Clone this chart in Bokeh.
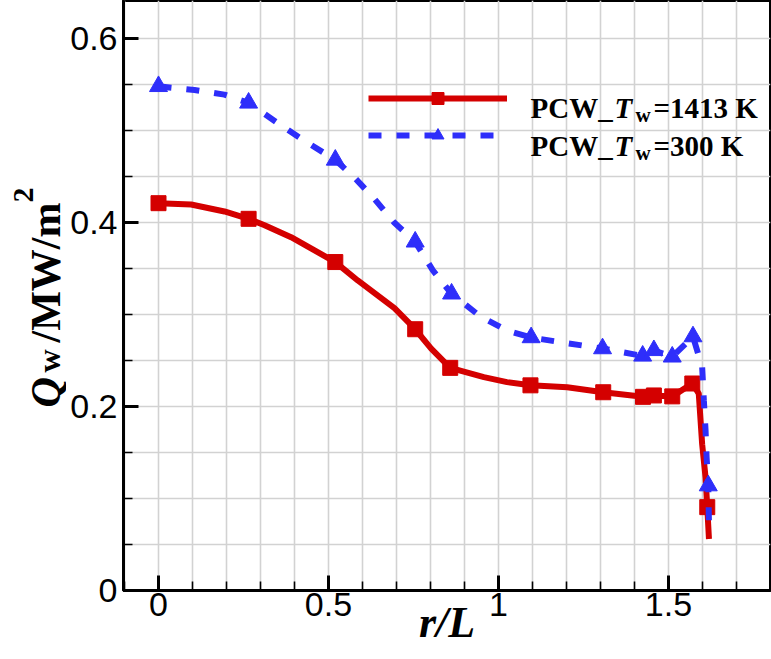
from math import pi
from bokeh.plotting import figure
from bokeh.layouts import row
from bokeh.models import Range1d, FixedTicker, Label, Legend, LegendItem
from bokeh.embed import file_html
from bokeh.resources import INLINE

# ---------------- data ----------------
x_tick_values = [0, 0.5, 1, 1.5]
x_tick_labels = ["0", "0.5", "1", "1.5"]
x_minor_values = [-0.1, 0.1, 0.2, 0.3, 0.4, 0.6, 0.7, 0.8, 0.9, 1.1, 1.2, 1.3, 1.4, 1.6, 1.7]
y_tick_values = [0, 0.2, 0.4, 0.6]
y_tick_labels = ["0", "0.2", "0.4", "0.6"]
y_minor_values = [0.05, 0.1, 0.15, 0.25, 0.3, 0.35, 0.45, 0.5, 0.55]

# Tw = 1413 K (red squares)
red_marker_x = [0.0, 0.265, 0.52, 0.755, 0.858, 1.094, 1.308, 1.425, 1.457, 1.511, 1.57, 1.614]
red_marker_y = [0.421, 0.404, 0.357, 0.284, 0.242, 0.223, 0.2155, 0.2105, 0.212, 0.211, 0.225, 0.0906]
red_curve_x = [0.0, 0.096, 0.194, 0.265, 0.312, 0.39, 0.52, 0.586, 0.694, 0.755, 0.802, 0.858,
               0.957, 1.025, 1.094, 1.202, 1.308, 1.425, 1.457, 1.511, 1.57, 1.589, 1.599,
               1.609, 1.614, 1.619]
red_curve_y = [0.421, 0.4196, 0.412, 0.404, 0.397, 0.384, 0.357, 0.337, 0.307, 0.284, 0.263, 0.242,
               0.232, 0.2265, 0.223, 0.221, 0.2155, 0.2105, 0.212, 0.211, 0.225, 0.214, 0.159,
               0.123, 0.0906, 0.056]

# Tw = 300 K (blue triangles)
blue_marker_x = [0.0, 0.265, 0.52, 0.755, 0.862, 1.096, 1.306, 1.424, 1.457, 1.511, 1.572, 1.617]
blue_marker_y = [0.548, 0.530, 0.468, 0.379, 0.3225, 0.275, 0.263, 0.255, 0.261, 0.254, 0.276, 0.114]
blue_curve_x = [0.0, 0.106, 0.194, 0.265, 0.351, 0.424, 0.52, 0.576, 0.635, 0.694, 0.755, 0.807,
                0.862, 0.947, 1.025, 1.096, 1.202, 1.306, 1.424, 1.457, 1.511, 1.572, 1.599,
                1.604, 1.609, 1.612, 1.617, 1.619]
blue_curve_y = [0.548, 0.544, 0.539, 0.530, 0.508, 0.490, 0.468, 0.449, 0.4257, 0.3997, 0.379, 0.348,
                0.3225, 0.2978, 0.2826, 0.275, 0.2688, 0.263, 0.255, 0.261, 0.254, 0.276, 0.243,
                0.2065, 0.174, 0.145, 0.114, 0.0725]

# ---------------- geometry (page pixels) ----------------
TOTAL_W, TOTAL_H = 771, 659
YW = 66
FRAME_L, FRAME_R = 123, 770
FRAME_T, FRAME_B = 0, 590
PW = TOTAL_W - YW
PH = TOTAL_H
BL = FRAME_L - YW
BR = TOTAL_W - FRAME_R
BB = PH - FRAME_B
PPU_X = 340.0
X0 = -0.1 - (124 - FRAME_L) / PPU_X
X1 = X0 + (FRAME_R - FRAME_L) / PPU_X
PPU_Y = 920.0
Y0 = 0.0
Y1 = Y0 + (FRAME_B - FRAME_T) / PPU_Y

def X(px):
    return X0 + (px - FRAME_L) / PPU_X
def Y(py):
    return Y0 + (FRAME_B - py) / PPU_Y

RED = "#d40000"
BLUE = "#2e2efa"
SERIF = "Liberation Serif"
SANS = "Liberation Sans"

p = figure(width=PW, height=PH, output_backend="svg", toolbar_location=None,
           x_range=Range1d(X0, X1), y_range=Range1d(Y0, Y1),
           min_border_left=BL, min_border_right=BR,
           min_border_top=FRAME_T, min_border_bottom=BB)
p.background_fill_color = "white"
p.border_fill_color = "white"
p.outline_line_color = "black"
p.outline_line_width = 3

p.xgrid.ticker = FixedTicker(ticks=sorted(x_tick_values + x_minor_values))
p.ygrid.ticker = FixedTicker(ticks=sorted(y_tick_values + y_minor_values))
for g in (p.xgrid, p.ygrid):
    g.grid_line_color = "#d2d2d2"
    g.grid_line_width = 1.6

p.xaxis.ticker = FixedTicker(ticks=x_tick_values, minor_ticks=x_minor_values)
p.yaxis.ticker = FixedTicker(ticks=y_tick_values, minor_ticks=y_minor_values)
p.xaxis.major_label_overrides = {v: s for v, s in zip(x_tick_values, x_tick_labels)}
p.yaxis.major_label_overrides = {v: s for v, s in zip(y_tick_values, y_tick_labels)}
for ax in (p.xaxis, p.yaxis):
    ax.axis_line_width = 3
    ax.axis_line_color = "black"
    ax.major_tick_in = 15
    ax.major_tick_out = 0
    ax.minor_tick_in = 9
    ax.minor_tick_out = 0
    ax.major_tick_line_width = 3
    ax.minor_tick_line_width = 1.6
    ax.major_tick_line_color = "black"
    ax.minor_tick_line_color = "black"
    ax.major_label_text_font = SANS
    ax.major_label_text_font_size = "34px"
    ax.major_label_text_color = "black"
p.yaxis.axis_label = None
p.xaxis.major_label_standoff = 2
p.yaxis.major_label_standoff = 6

# x-axis title as the axis' own label
p.xaxis.axis_label = "r/L"
p.xaxis.axis_label_text_font = SERIF
p.xaxis.axis_label_text_font_style = "bold italic"
p.xaxis.axis_label_text_font_size = "44px"
p.xaxis.axis_label_text_color = "black"
p.xaxis.axis_label_standoff = -21

red_line = p.line(red_curve_x, red_curve_y, line_color=RED, line_width=6, line_join="round")
red_marks = p.scatter(red_marker_x, red_marker_y, marker="square", size=15,
                      fill_color=RED, line_color=RED)
blue_line = p.line(blue_curve_x, blue_curve_y, line_color=BLUE, line_width=6,
                   line_dash="13 15")
blue_marks = p.scatter(blue_marker_x, blue_marker_y, marker="triangle", size=18,
                       fill_color=BLUE, line_color=BLUE)

legend = Legend(items=[LegendItem(label=" ", renderers=[red_line, red_marks]),
                       LegendItem(label=" ", renderers=[blue_line, blue_marks])],
                location=(368 - FRAME_L, FRAME_B - 150), glyph_width=139, glyph_height=30,
                spacing=7, padding=0, margin=0, label_standoff=0, label_width=1,
                label_height=1, label_text_font_size="1px",
                border_line_alpha=0, background_fill_alpha=0)
p.add_layout(legend, "center")

def lab(fig, x, y, text, size, style="bold", font=SERIF, angle=0.0, align="left"):
    fig.add_layout(Label(x=x, y=y, text=text, text_font=font, text_font_size=size,
                         text_font_style=style, text_color="black", angle=angle,
                         text_align=align, text_baseline="alphabetic"))

# legend texts
lab(p, X(530), Y(107.5), "PCW_", "29px")
lab(p, X(614), Y(107.5), "T", "29px", "bold italic")
lab(p, X(635), Y(114.5), "w", "21px")
lab(p, X(653), Y(107.5), "=1413 K", "29px")
lab(p, X(530), Y(145), "PCW_", "29px")
lab(p, X(614), Y(145), "T", "29px", "bold italic")
lab(p, X(635), Y(152), "w", "21px")
lab(p, X(653), Y(145), "=300 K", "29px")

# y-axis title strip; its frame rows match the main frame (data = page x, 659 - page y)
yfig = figure(width=YW, height=TOTAL_H, output_backend="svg", toolbar_location=None,
              x_range=Range1d(0, YW), y_range=Range1d(TOTAL_H - FRAME_B, TOTAL_H - FRAME_T),
              x_axis_type=None, y_axis_type=None,
              min_border_left=0, min_border_right=0,
              min_border_top=FRAME_T, min_border_bottom=BB)
yfig.outline_line_color = None
yfig.grid.visible = False
yfig.background_fill_color = "white"
yfig.border_fill_color = "white"

def yy(py):
    return TOTAL_H - py
lab(yfig, 45, yy(407), "Q", "42px", "bold italic", angle=pi / 2)
lab(yfig, 48, yy(372), "w", "32px", "bold", angle=pi / 2)
lab(yfig, 45, yy(342), "/MW/m", "42px", "bold", angle=pi / 2)
lab(yfig, 23, yy(202), "2", "30px", "bold", angle=pi / 2)

layout = row(yfig, p, spacing=0)
open("out.html", "w").write(file_html(layout, INLINE))
